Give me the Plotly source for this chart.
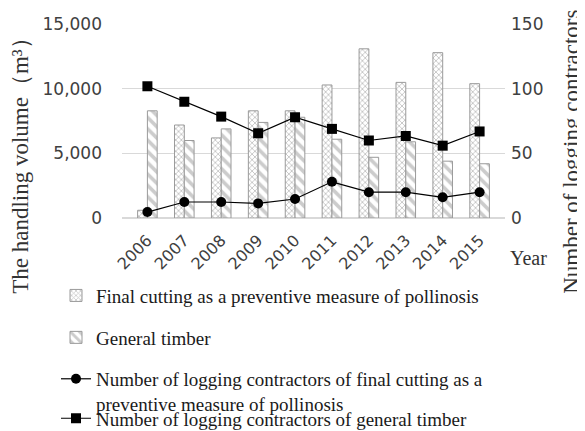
import plotly.graph_objects as go

years = ["2006", "2007", "2008", "2009", "2010", "2011", "2012", "2013", "2014", "2015"]
final_cutting_volume = [600, 7200, 6200, 8300, 8300, 10300, 13100, 10500, 12800, 10400]
general_timber_volume = [8300, 6000, 6900, 7400, 7800, 6100, 4700, 5900, 4400, 4200]
contractors_final_cutting = [4.6, 12.4, 12.4, 11.3, 14.7, 28, 20, 20, 16, 20]
contractors_general_timber = [102, 90, 78.5, 65.6, 78, 69, 60, 63.5, 56, 67]

serif = "Liberation Serif"
sans = "DejaVu Sans"

# page offset of the figure (default body margin)
OFF = 8
FW, FH = 585 - OFF, 431 - OFF
# plot area in page pixels
PL, PT, PR, PB = 122, 24, 505, 218.3
L, T = PL - OFF, PT - OFF
W, H = PR - PL, PB - PT


def px_x(x):
    return (x - PL) / W


def px_y(y):
    return (PB - y) / H


fig = go.Figure()
fig.add_trace(go.Bar(
    x=years, y=final_cutting_volume,
    name="Final cutting as a preventive measure of pollinosis",
    marker=dict(color="white", line=dict(color="#9a9a9a", width=1),
                pattern=dict(shape="x", fgcolor="#8a8a8a", bgcolor="white", size=4, solidity=0.4)),
    legend="legend",
))
fig.add_trace(go.Bar(
    x=years, y=general_timber_volume,
    name="General timber",
    marker=dict(color="white", line=dict(color="#9a9a9a", width=1),
                pattern=dict(shape="\\", fgcolor="#9a9a9a", bgcolor="white", size=8, solidity=0.45)),
    legend="legend2",
))
fig.add_trace(go.Scatter(
    x=years, y=contractors_final_cutting, yaxis="y2",
    name="Number of logging contractors of final cutting as a<br>preventive measure of pollinosis",
    mode="lines+markers",
    line=dict(color="black", width=1.2),
    marker=dict(symbol="circle", size=10, color="black"),
    legend="legend3",
))
fig.add_trace(go.Scatter(
    x=years, y=contractors_general_timber, yaxis="y2",
    name="Number of logging contractors of general timber",
    mode="lines+markers",
    line=dict(color="black", width=1.2),
    marker=dict(symbol="square", size=10, color="black"),
    legend="legend4",
))

leg_common = dict(xanchor="left", yanchor="middle", bgcolor="rgba(0,0,0,0)",
                  font=dict(family=serif, size=19, color="#1a1a1a"), visible=True,
                  valign="top")
lx = px_x(56)

fig.update_layout(
    width=FW, height=FH,
    margin=dict(l=L, r=FW - L - W, t=T, b=FH - T - H, autoexpand=False),
    paper_bgcolor="white", plot_bgcolor="white",
    showlegend=True,
    barmode="group", bargap=0.47, bargroupgap=0,
    xaxis=dict(type="category", tickangle=-45, showline=False, ticks="",
               automargin=False, ticklabelstandoff=9,
               tickfont=dict(family=sans, size=16, color="#404040")),
    yaxis=dict(range=[0, 15020], tickvals=[0, 5000, 10000, 15000], tickformat=",", showgrid=True,
               gridcolor="#d9d9d9", zeroline=True, zerolinecolor="#d9d9d9",
               tickfont=dict(family=sans, size=17, color="#404040"), ticks="",
               automargin=False, ticklabelstandoff=19),
    yaxis2=dict(range=[0, 150.2], tickvals=[0, 50, 100, 150], overlaying="y", side="right",
                showgrid=False, zeroline=False, ticks="",
                tickfont=dict(family=sans, size=17, color="#404040"),
                automargin=False, ticklabelstandoff=5),
    legend=dict(x=lx, y=px_y(296), **leg_common),
    legend2=dict(x=lx, y=px_y(338), **leg_common),
    legend3=dict(x=lx, y=px_y(392), **leg_common),
    legend4=dict(x=lx, y=px_y(419), **leg_common),
    annotations=[
        dict(text="The handling volume（m³）", xref="paper", yref="paper",
             x=px_x(21), y=px_y(160), textangle=-90,
             showarrow=False, xanchor="center", yanchor="middle",
             font=dict(family=serif, size=23, color="#333333")),
        dict(text="Number of logging contractors", xref="paper", yref="paper",
             x=px_x(572), y=px_y(152), textangle=-90,
             showarrow=False, xanchor="center", yanchor="middle",
             font=dict(family=serif, size=23, color="#333333")),
        dict(text="Year", xref="paper", yref="paper",
             x=px_x(528), y=px_y(258),
             showarrow=False, xanchor="center", yanchor="middle",
             font=dict(family=serif, size=20, color="#333333")),
    ],
)

fig.write_html("out.html")
